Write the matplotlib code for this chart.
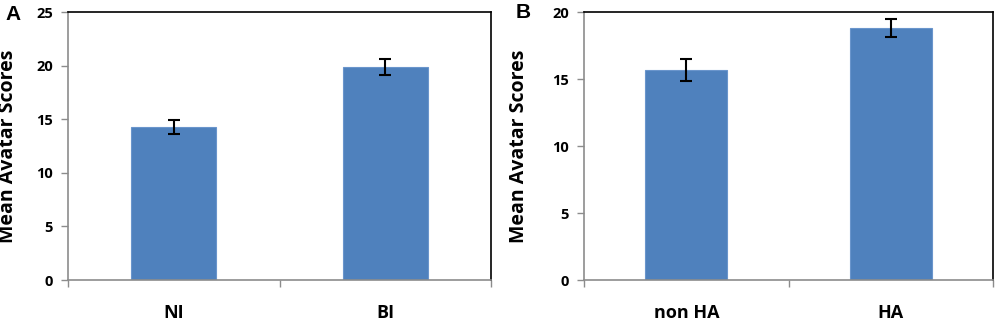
import matplotlib
matplotlib.use("Agg")
import matplotlib.pyplot as plt
import numpy as np

cats_a = ["NI", "BI"]
vals_a = [14.25, 19.9]
err_a = [0.65, 0.75]

cats_b = ["non HA", "HA"]
vals_b = [15.65, 18.8]
err_b = [0.82, 0.68]

ylim_a = (0, 25)
yticks_a = [0, 5, 10, 15, 20, 25]
ylim_b = (0, 20)
yticks_b = [0, 5, 10, 15, 20]

bar_color = "#4F81BD"
edge_color = "#6A95CC"
gray = "#8C8C8C"
font = ["Open Sans", "DejaVu Sans"]

fig = plt.figure(figsize=(10, 3.24), dpi=100)
ax_a = fig.add_axes([0.068, 0.1358, 0.423, 0.827])
ax_b = fig.add_axes([0.584, 0.1358, 0.409, 0.827])


def draw(ax, cats, vals, errs, ylim, yticks):
    x = np.arange(len(cats))
    ax.bar(x, vals, width=0.4, color=bar_color, edgecolor=edge_color, linewidth=0.8, zorder=2)
    ax.errorbar(x, vals, yerr=errs, fmt="none", ecolor="black", elinewidth=1.5,
                capsize=4, capthick=1.5, zorder=3)
    ax.set_xlim(-0.5, len(cats) - 0.5)
    ax.set_ylim(*ylim)
    ax.set_yticks(yticks)
    ax.set_yticklabels([str(t) for t in yticks], fontfamily=font, fontweight="bold", fontsize=10.5)
    ax.set_xticks(x)
    ax.set_xticklabels(cats, fontfamily=font, fontweight="bold", fontsize=13)
    ax.set_xticks(np.arange(-0.5, len(cats), 1.0), minor=True)
    ax.tick_params(axis="x", which="major", length=0, pad=17)
    ax.tick_params(axis="x", which="minor", length=5, color=gray, width=1, direction="out")
    ax.tick_params(axis="y", length=5, color=gray, width=1, direction="out", pad=6)
    for s in ("left", "bottom"):
        ax.spines[s].set_color(gray)
        ax.spines[s].set_linewidth(1.2)
    for s in ("top", "right"):
        ax.spines[s].set_color("black")
        ax.spines[s].set_linewidth(1.2)
    ax.set_ylabel("Mean Avatar Scores", fontfamily=font, fontweight="bold", fontsize=14)


draw(ax_a, cats_a, vals_a, err_a, ylim_a, yticks_a)
draw(ax_b, cats_b, vals_b, err_b, ylim_b, yticks_b)
ax_a.yaxis.set_label_coords(-0.118, 0.5)
ax_b.yaxis.set_label_coords(-0.135, 0.5)

fig.text(0.005, 0.985, "A", fontfamily=["Liberation Sans", "DejaVu Sans"], fontweight="bold", fontsize=15, va="top")
fig.text(0.516, 0.99, "B", fontfamily=["Liberation Sans", "DejaVu Sans"], fontweight="bold", fontsize=15, va="top")

fig.savefig("out.png", dpi=100)
